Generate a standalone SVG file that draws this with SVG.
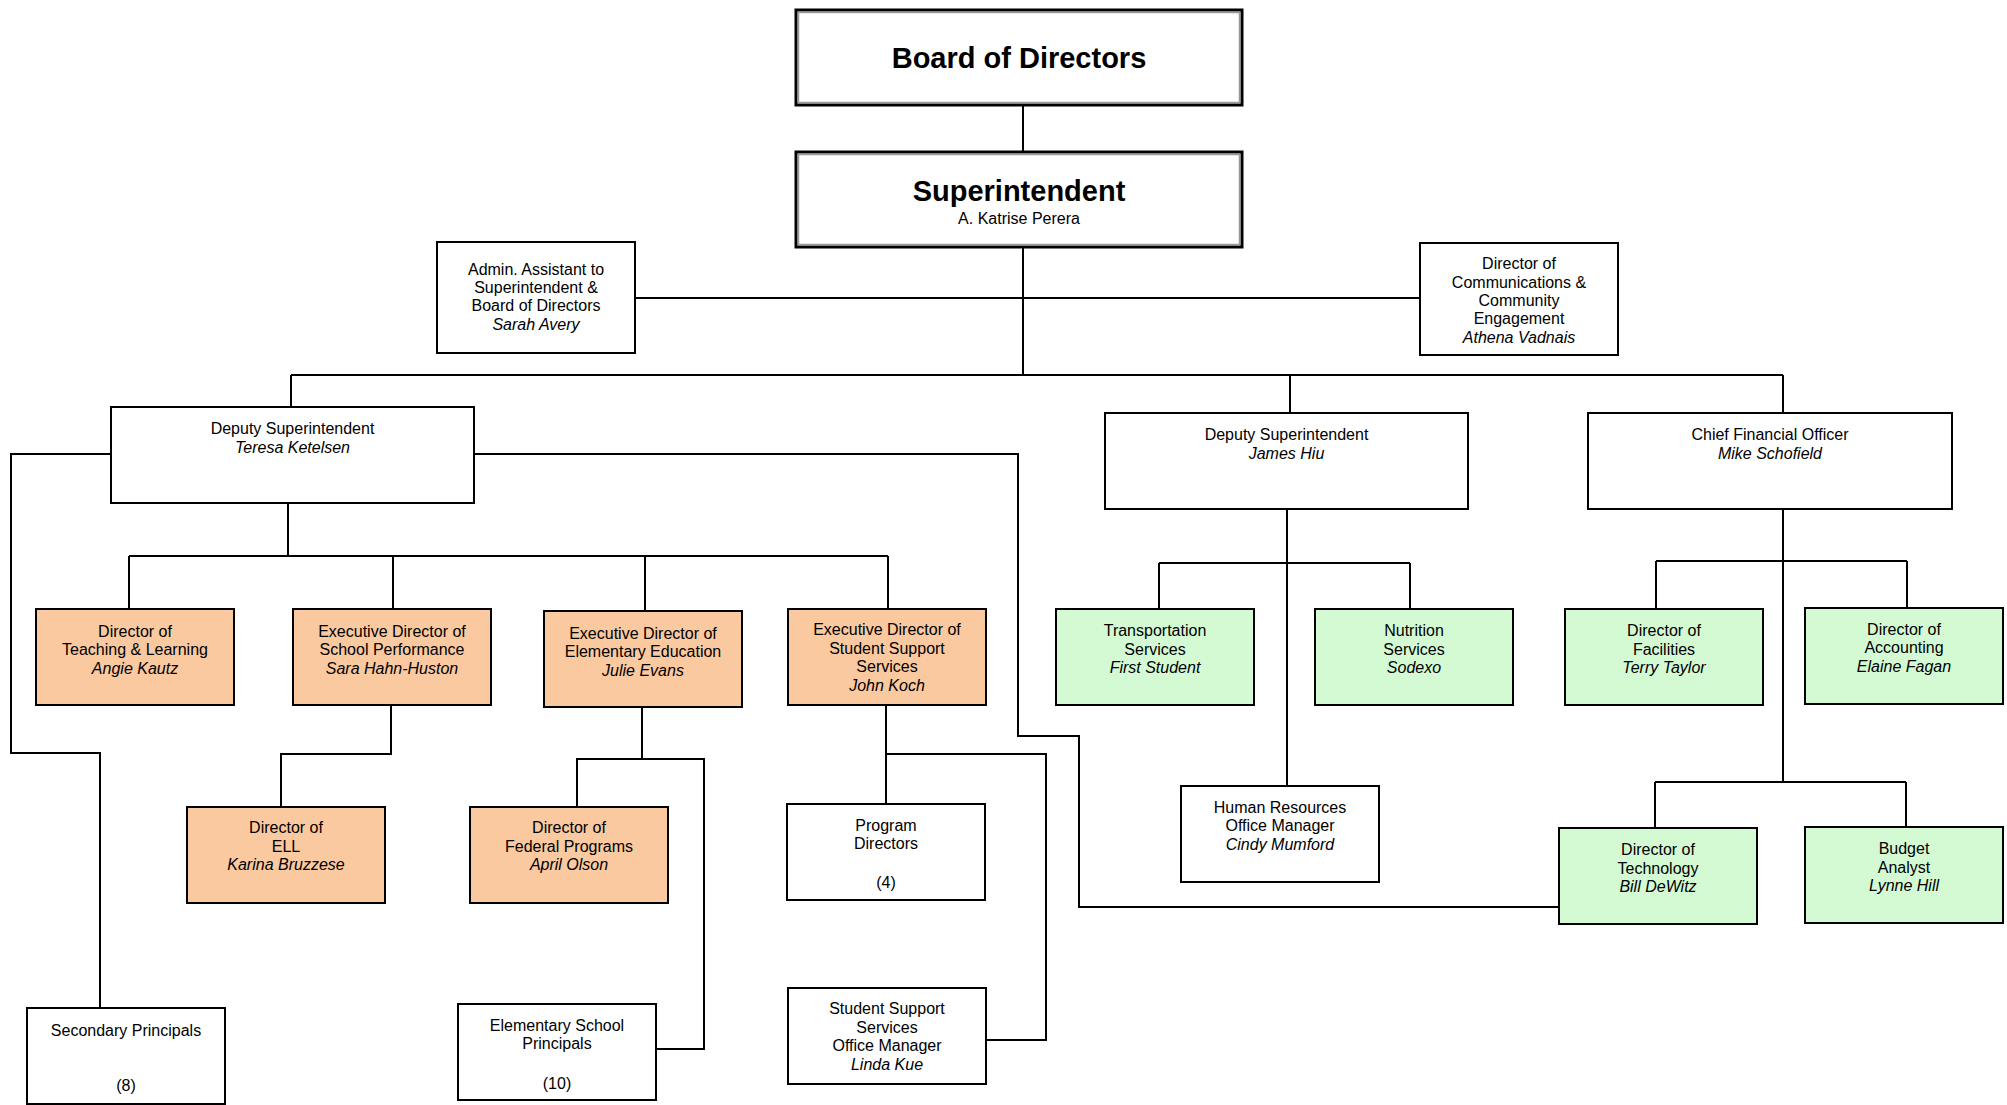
<svg xmlns="http://www.w3.org/2000/svg" width="2007" height="1105" viewBox="0 0 2007 1105">
<style>
text{font-family:"Liberation Sans",Arial,sans-serif;font-size:16px;fill:#000;text-anchor:middle}
.i{font-style:italic}
.big{font-size:29px;font-weight:bold}
.box{fill:#fff;stroke:#000;stroke-width:2}
.org{fill:#FAC99F;stroke:#000;stroke-width:2}
.grn{fill:#D4FAD4;stroke:#000;stroke-width:2}
.dbl{fill:#fff;stroke:#000;stroke-width:3}
.inner{fill:none;stroke:#999;stroke-width:1.5}
.c path{fill:none;stroke:#000;stroke-width:2}
</style>
<g class="c" id="connectors">
<path d="M1023 105V152"/>
<path d="M1023 247V375"/>
<path d="M635 298H1420"/>
<path d="M291 375H1783M291 375V407M1290 375V413M1783 375V413"/>
<path d="M288 503V556M129 556H888M129 556V609M393 556V609M645 556V611M888 556V609"/>
<path d="M111 454H11V753H100V1008"/>
<path d="M474 454H1018V736H1079V907H1559"/>
<path d="M391 705V754H281V807"/>
<path d="M642 707V760M577 807V759H704V1049H656"/>
<path d="M886 705V804M886 754H1046V1040H987"/>
<path d="M1287 509V786M1159 563H1410M1159 563V609M1410 563V609"/>
<path d="M1783 509V782M1656 561H1907M1656 561V609M1907 561V608M1655 782H1906M1655 782V828M1906 782V827"/>
</g>
<g id="board"><rect class="dbl" x="796" y="10" width="446" height="95"/><rect class="inner" x="798.5" y="12.5" width="441" height="90"/><text class="big" x="1019" y="68">Board of Directors</text></g>
<g id="superintendent"><rect class="dbl" x="796" y="152" width="446" height="95"/><rect class="inner" x="798.5" y="154.5" width="441" height="90"/><text class="big" x="1019" y="201">Superintendent</text><text x="1019" y="224">A. Katrise Perera</text></g>
<g id="admin"><rect class="box" x="437" y="242" width="198" height="111"/><text x="536" y="275">Admin. Assistant to</text><text x="536" y="293">Superintendent &amp;</text><text x="536" y="311">Board of Directors</text><text class="i" x="536" y="330">Sarah Avery</text></g>
<g id="comms"><rect class="box" x="1420" y="243" width="198" height="112"/><text x="1519" y="269">Director of</text><text x="1519" y="288">Communications &amp;</text><text x="1519" y="306">Community</text><text x="1519" y="324">Engagement</text><text class="i" x="1519" y="343">Athena Vadnais</text></g>
<g id="deputy1"><rect class="box" x="111" y="407" width="363" height="96"/><text x="292.5" y="434">Deputy Superintendent</text><text class="i" x="292.5" y="453">Teresa Ketelsen</text></g>
<g id="deputy2"><rect class="box" x="1105" y="413" width="363" height="96"/><text x="1286.5" y="440">Deputy Superintendent</text><text class="i" x="1286.5" y="459">James Hiu</text></g>
<g id="cfo"><rect class="box" x="1588" y="413" width="364" height="96"/><text x="1770" y="440">Chief Financial Officer</text><text class="i" x="1770" y="459">Mike Schofield</text></g>
<g id="teaching"><rect class="org" x="36" y="609" width="198" height="96"/><text x="135" y="637">Director of</text><text x="135" y="655">Teaching &amp; Learning</text><text class="i" x="135" y="674">Angie Kautz</text></g>
<g id="schoolperf"><rect class="org" x="293" y="609" width="198" height="96"/><text x="392" y="637">Executive Director of</text><text x="392" y="655">School Performance</text><text class="i" x="392" y="674">Sara Hahn-Huston</text></g>
<g id="elemed"><rect class="org" x="544" y="611" width="198" height="96"/><text x="643" y="639">Executive Director of</text><text x="643" y="657">Elementary Education</text><text class="i" x="643" y="676">Julie Evans</text></g>
<g id="studentsupport"><rect class="org" x="788" y="609" width="198" height="96"/><text x="887" y="635">Executive Director of</text><text x="887" y="654">Student Support</text><text x="887" y="672">Services</text><text class="i" x="887" y="691">John Koch</text></g>
<g id="ell"><rect class="org" x="187" y="807" width="198" height="96"/><text x="286" y="833">Director of</text><text x="286" y="852">ELL</text><text class="i" x="286" y="870">Karina Bruzzese</text></g>
<g id="federal"><rect class="org" x="470" y="807" width="198" height="96"/><text x="569" y="833">Director of</text><text x="569" y="852">Federal Programs</text><text class="i" x="569" y="870">April Olson</text></g>
<g id="programdirectors"><rect class="box" x="787" y="804" width="198" height="96"/><text x="886" y="831">Program</text><text x="886" y="849">Directors</text><text x="886" y="888">(4)</text></g>
<g id="transport"><rect class="grn" x="1056" y="609" width="198" height="96"/><text x="1155" y="636">Transportation</text><text x="1155" y="655">Services</text><text class="i" x="1155" y="673">First Student</text></g>
<g id="nutrition"><rect class="grn" x="1315" y="609" width="198" height="96"/><text x="1414" y="636">Nutrition</text><text x="1414" y="655">Services</text><text class="i" x="1414" y="673">Sodexo</text></g>
<g id="facilities"><rect class="grn" x="1565" y="609" width="198" height="96"/><text x="1664" y="636">Director of</text><text x="1664" y="655">Facilities</text><text class="i" x="1664" y="673">Terry Taylor</text></g>
<g id="accounting"><rect class="grn" x="1805" y="608" width="198" height="96"/><text x="1904" y="635">Director of</text><text x="1904" y="653">Accounting</text><text class="i" x="1904" y="672">Elaine Fagan</text></g>
<g id="hr"><rect class="box" x="1181" y="786" width="198" height="96"/><text x="1280" y="813">Human Resources</text><text x="1280" y="831">Office Manager</text><text class="i" x="1280" y="850">Cindy Mumford</text></g>
<g id="technology"><rect class="grn" x="1559" y="828" width="198" height="96"/><text x="1658" y="855">Director of</text><text x="1658" y="874">Technology</text><text class="i" x="1658" y="892">Bill DeWitz</text></g>
<g id="budget"><rect class="grn" x="1805" y="827" width="198" height="96"/><text x="1904" y="854">Budget</text><text x="1904" y="873">Analyst</text><text class="i" x="1904" y="891">Lynne Hill</text></g>
<g id="secondary"><rect class="box" x="27" y="1008" width="198" height="96"/><text x="126" y="1036">Secondary Principals</text><text x="126" y="1091">(8)</text></g>
<g id="elemprincipals"><rect class="box" x="458" y="1004" width="198" height="96"/><text x="557" y="1031">Elementary School</text><text x="557" y="1049">Principals</text><text x="557" y="1089">(10)</text></g>
<g id="ssofficemgr"><rect class="box" x="788" y="988" width="198" height="96"/><text x="887" y="1014">Student Support</text><text x="887" y="1033">Services</text><text x="887" y="1051">Office Manager</text><text class="i" x="887" y="1070">Linda Kue</text></g>
</svg>
